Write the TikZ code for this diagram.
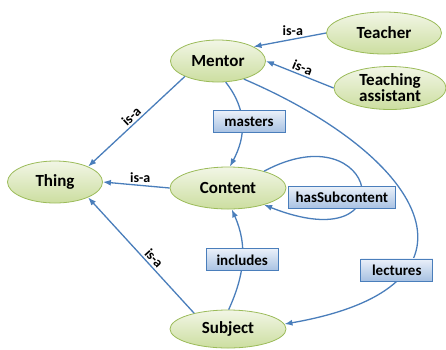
\documentclass[tikz,border=0pt]{standalone}
\usepackage{fontspec}
\setsansfont{Carlito}
\usetikzlibrary{arrows.meta,shapes.geometric}
\definecolor{linkblue}{RGB}{74,126,187}
\definecolor{conceptline}{RGB}{155,187,89}
\definecolor{concepttop}{RGB}{242,246,230}
\definecolor{conceptbot}{RGB}{204,222,160}
\definecolor{boxtop}{RGB}{234,240,249}
\definecolor{boxbot}{RGB}{167,193,226}
\tikzset{>={Latex[width=6pt,length=8pt]},
  base/.style = {
    draw, line width=0.8pt, text centered, font=\sffamily\bfseries
  },
  concept/.style = {
    base, ellipse, inner sep=0pt, minimum width=95pt, minimum height=42pt,
    draw=conceptline, top color=concepttop, bottom color=conceptbot,
    font=\sffamily\bfseries\fontsize{17}{16}\selectfont
  },
  relation/.style = {
    base, rectangle, draw=linkblue, minimum width=72pt, minimum height=22pt,
    inner xsep=7pt, top color=boxtop, bottom color=boxbot,
    font=\sffamily\bfseries\fontsize{15}{15}\selectfont
  },
  isa/.style = {font=\sffamily\bfseries\fontsize{14}{14}\selectfont, inner sep=2pt},
  link/.style = {draw=linkblue, line width=1.3pt, ->},
}
\begin{document}
\begin{tikzpicture}[x=1pt, y=-1pt]
  \useasboundingbox (0,0) rectangle (446,349);
  \node (mentor) [concept] at (218,61) {Mentor};
  \node (teacher) [concept, minimum width=115pt] at (384,33) {Teacher};
  \node (assistant) [concept, minimum width=112pt, minimum height=43pt, align=center] at (390,88) {Teaching\\assistant};
  \node (thing) [concept] at (55,182) {Thing};
  \node (content) [concept, minimum width=116pt] at (228,188) {Content};
  \node (subject) [concept, minimum width=116pt, minimum height=38pt] at (228,329) {Subject};
  \draw[link] (teacher.west) -- (mentor.22) node[isa, midway, above, xshift=3pt, yshift=2pt] {is-a};
  \draw[link] (assistant.west) -- (mentor.east) node[isa, midway, above, sloped] {is-a};
  \draw[link] (mentor.205) -- (thing.25) node[isa, midway, above, sloped] {is-a};
  \draw[link] (content.west) -- (thing.east) node[isa, midway, above, xshift=4pt] {is-a};
  \draw[link] (subject.155) -- (thing.-25) node[isa, pos=0.43, above, sloped] {is-a};
  \draw[link] (mentor.-70) .. controls +(22,28) and +(16,-30) .. (content.85)
    node[relation, midway, xshift=7pt, yshift=2pt] {masters};
  \draw[link] (subject.88) .. controls +(16,-35) and +(16,36) .. (content.-80)
    node[relation, midway] {includes};
  \draw[link] (content.25) .. controls +(114,-61) and +(144,57) .. (content.-25)
    node[relation, midway, xshift=-19pt, yshift=-11pt] {hasSubcontent};
  \draw[link] (mentor.-35) .. controls +(186,80) and +(213,-37) .. (subject.5)
    node[relation, pos=0.7, xshift=-8pt] {lectures};
\end{tikzpicture}
\end{document}
